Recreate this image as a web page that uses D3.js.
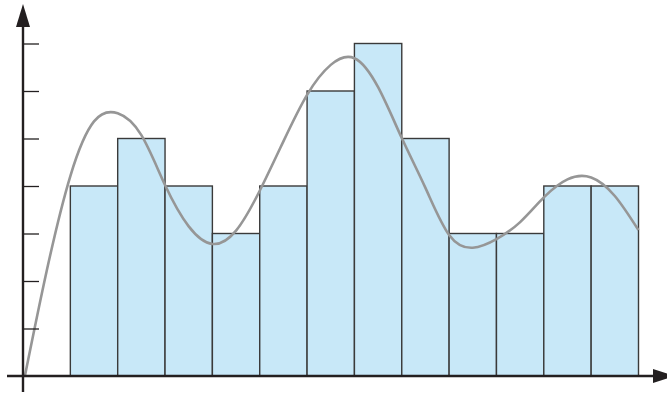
<!DOCTYPE html>
<html>
<head>
<meta charset="utf-8">
<script src="https://cdn.jsdelivr.net/npm/d3@7"></script>
<style>
  html, body { margin: 0; padding: 0; background: #fff; }
  svg { display: block; }
</style>
</head>
<body>
<svg id="chart" width="667" height="393"></svg>
<script>
// ---- data ----
const binStarts = [1, 2, 3, 4, 5, 6, 7, 8, 9, 10, 11, 12];
const binCounts = [4, 5, 4, 3, 4, 6, 7, 5, 3, 3, 4, 4];
const yTicks = [1, 2, 3, 4, 5, 6, 7];
const curveX = [0.04, 0.5, 1.0, 1.5, 2.0, 2.5, 3.0, 3.5, 4.0, 4.5, 5.0, 5.5, 6.0, 6.5, 7.0, 7.5, 8.0, 8.5, 9.0, 9.5, 10.0, 10.5, 11.0, 11.5, 12.0, 12.5, 13.0];
const curveY = [0.00, 2.21, 4.21, 5.36, 5.53, 5.07, 4.02, 3.15, 2.78, 3.06, 3.90, 4.94, 5.92, 6.55, 6.69, 6.08, 5.01, 3.96, 2.97, 2.70, 2.88, 3.24, 3.76, 4.14, 4.18, 3.79, 3.07];

// ---- scales ----
const svg = d3.select("#chart");
const x = d3.scaleLinear().domain([0, 13]).range([23, 638.5]);
const y = d3.scaleLinear().domain([0, 7]).range([376, 43.5]);

const axisColor = "#231f20";

// bars
svg.append("g").selectAll("rect")
  .data(binStarts.map((s, i) => ({ s, c: binCounts[i] })))
  .join("rect")
  .attr("x", d => x(d.s))
  .attr("y", d => y(d.c))
  .attr("width", d => x(d.s + 1) - x(d.s))
  .attr("height", d => y(0) - y(d.c))
  .attr("fill", "#c8e8f8")
  .attr("stroke", "#3a3a3a")
  .attr("stroke-width", 1.4);

// curve
const pts = curveX.map((v, i) => [v, curveY[i]]);
svg.append("path")
  .datum(pts)
  .attr("d", d3.line().x(d => x(d[0])).y(d => y(d[1])).curve(d3.curveNatural))
  .attr("fill", "none")
  .attr("stroke", "#969696")
  .attr("stroke-width", 2.6);

// y axis ticks (short marks to the right of the axis)
const yAxis = d3.axisRight(y).tickValues(yTicks).tickSize(16).tickFormat("");
const gy = svg.append("g").attr("transform", `translate(${x(0)},0)`).call(yAxis);
gy.select(".domain").remove();
gy.selectAll(".tick line").attr("stroke", axisColor).attr("stroke-width", 1.3);

// axis lines
svg.append("line")
  .attr("x1", x(0)).attr("x2", x(0))
  .attr("y1", 392).attr("y2", 20)
  .attr("stroke", axisColor).attr("stroke-width", 2.4);
svg.append("line")
  .attr("x1", 7).attr("x2", 655)
  .attr("y1", y(0)).attr("y2", y(0))
  .attr("stroke", axisColor).attr("stroke-width", 2.4);

// arrowheads
svg.append("path")
  .attr("d", `M${x(0)},4 L${x(0) + 7},27 L${x(0) - 7},27 Z`)
  .attr("fill", axisColor);
svg.append("path")
  .attr("d", `M675,${y(0)} L653,${y(0) - 7} L653,${y(0) + 7} Z`)
  .attr("fill", axisColor);
</script>
</body>
</html>
